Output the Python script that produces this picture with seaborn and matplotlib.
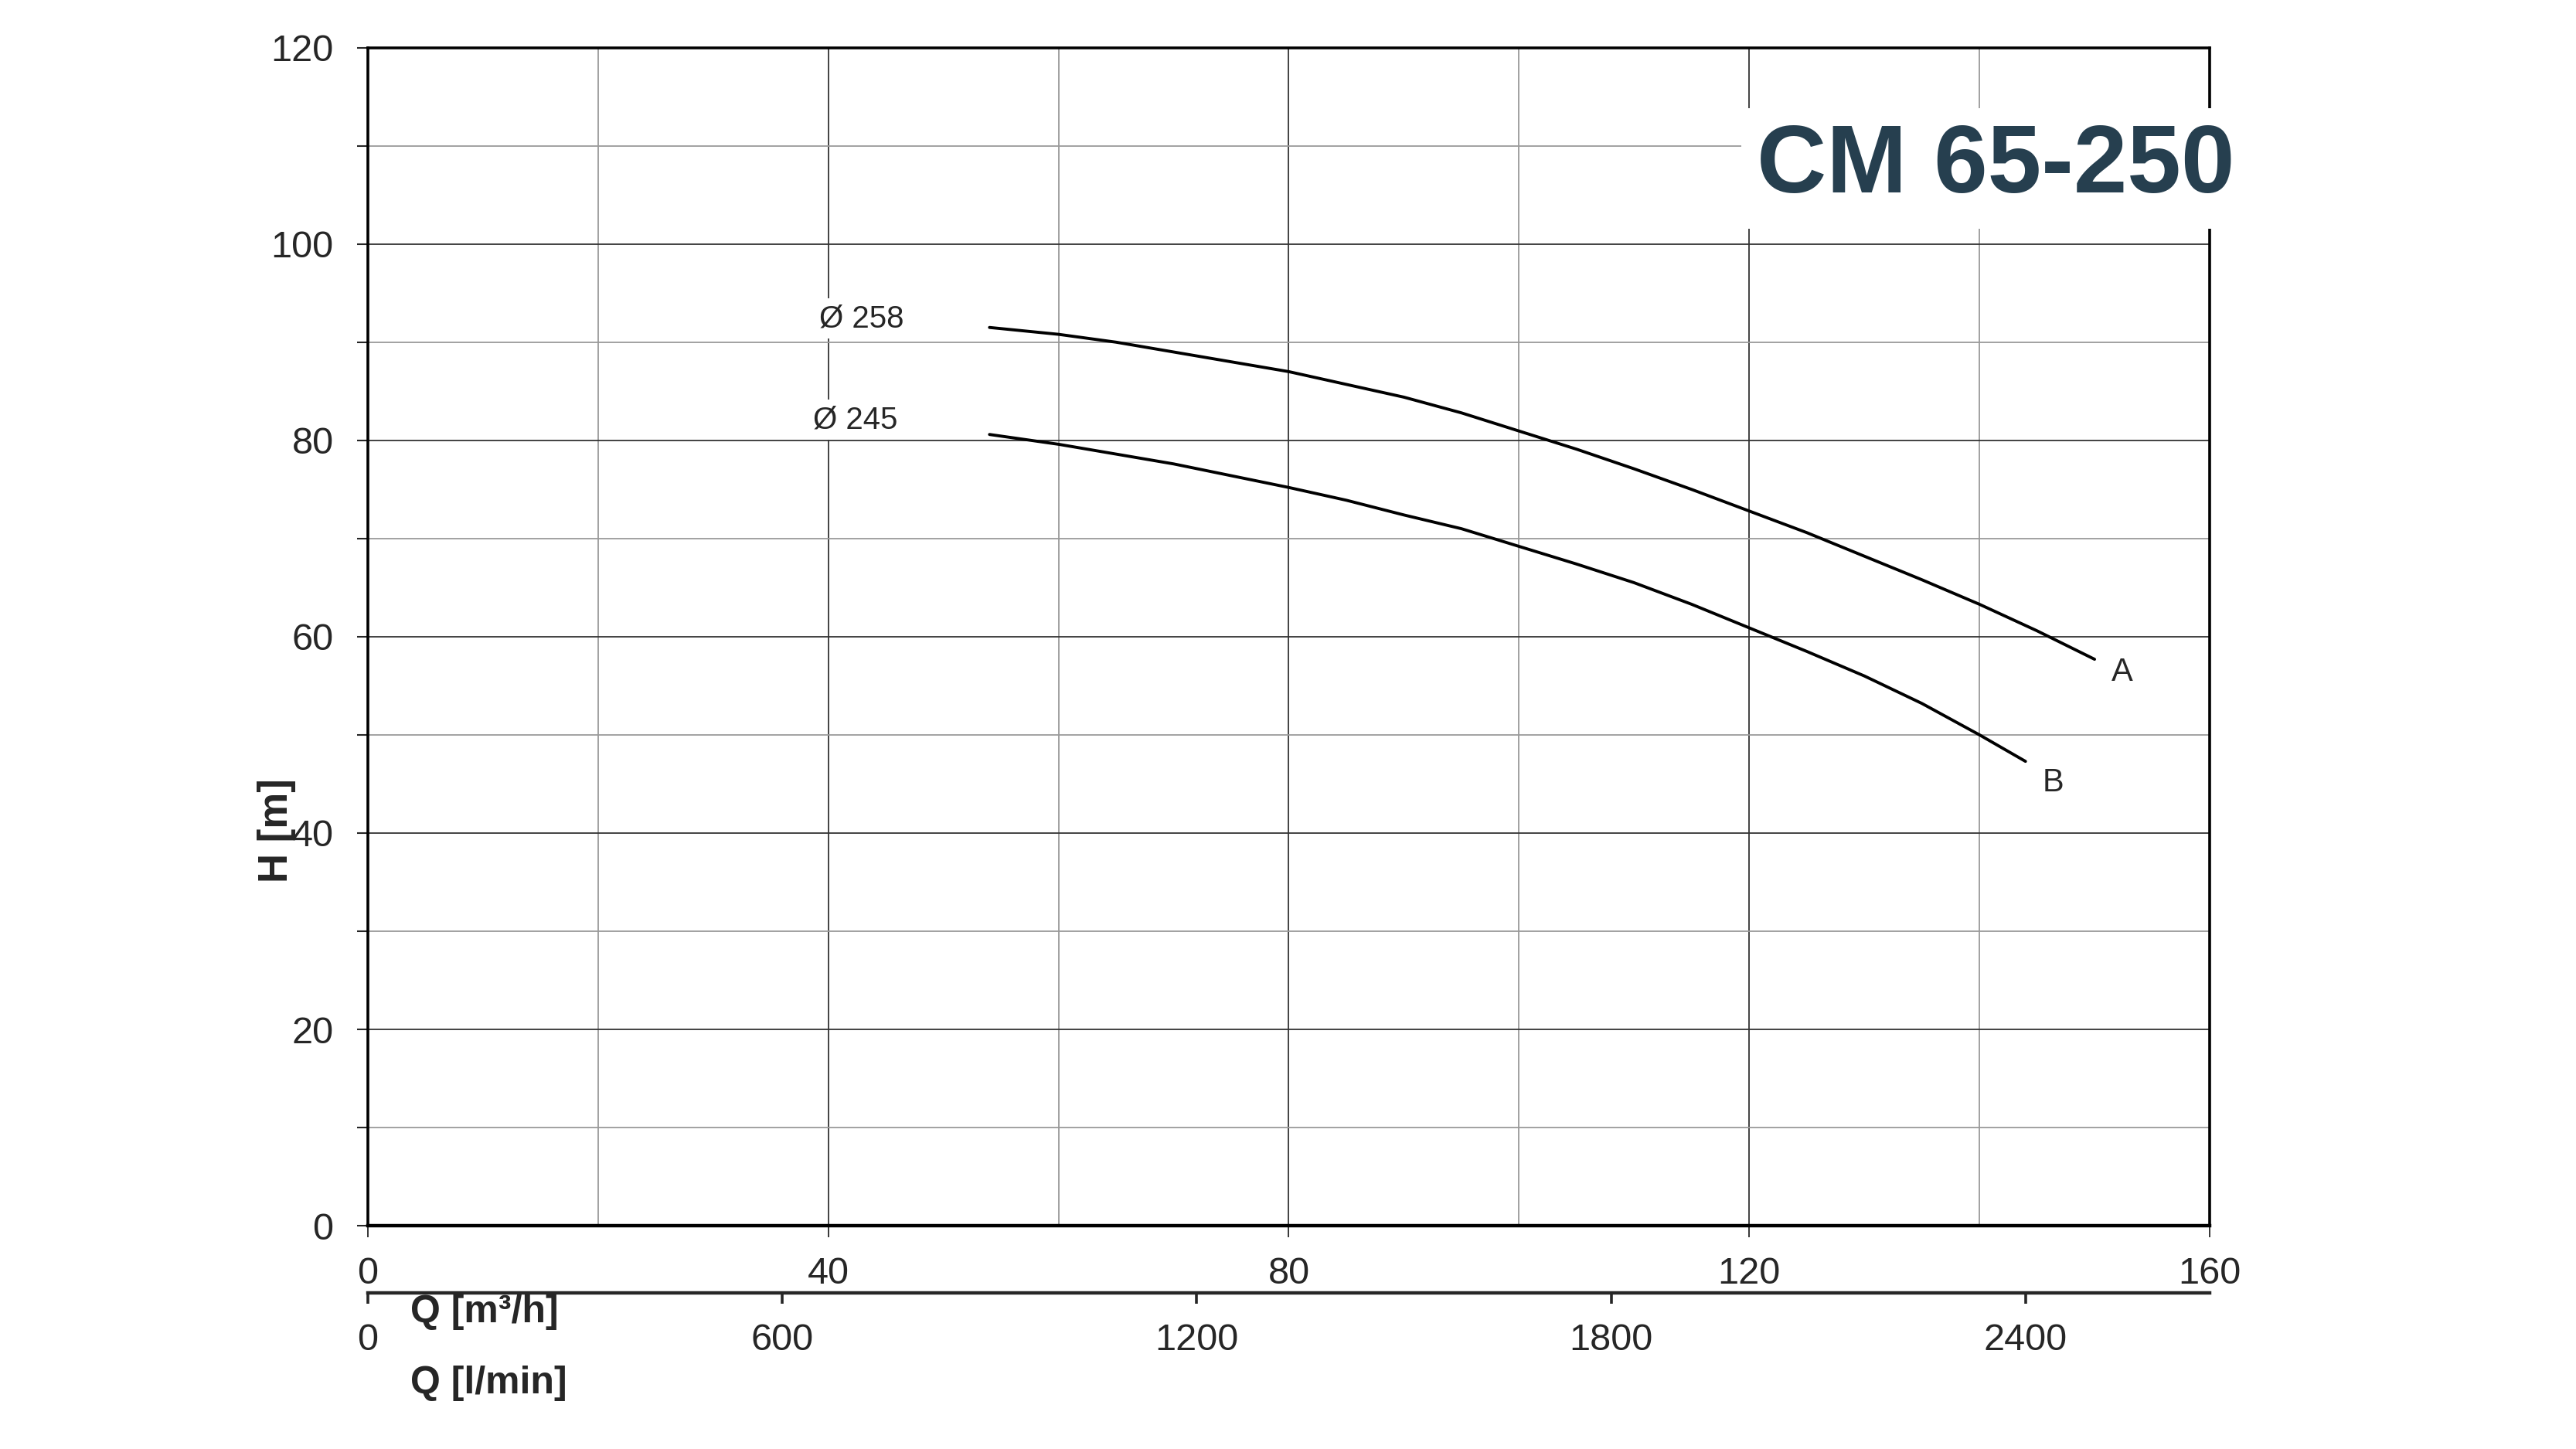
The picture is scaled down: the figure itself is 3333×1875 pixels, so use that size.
import pandas as pd
import numpy as np
import matplotlib.pyplot as plt
import seaborn as sns

# Kennlinien (Q in m3/h, H in m)
q_a = [54.0, 60, 65, 70, 75, 80, 85, 90, 95, 100, 105, 110, 115, 120, 125, 130, 135, 140, 145, 150]
h_a = [91.5, 90.8, 90.0, 89.0, 88.0, 87.0, 85.7, 84.4, 82.8, 80.95, 79.1, 77.1, 75.0, 72.8,
       70.6, 68.2, 65.8, 63.3, 60.6, 57.7]
q_b = [54.0, 60, 65, 70, 75, 80, 85, 90, 95, 100, 105, 110, 115, 120, 125, 130, 135, 140, 144]
h_b = [80.6, 79.6, 78.6, 77.6, 76.4, 75.2, 73.9, 72.4, 71.0, 69.2, 67.4, 65.5, 63.3, 60.9,
       58.5, 56.0, 53.2, 50.0, 47.3]

x_ticks = [0, 40, 80, 120, 160]
x_minor = [20, 60, 100, 140]
y_ticks = [0, 20, 40, 60, 80, 100, 120]
y_minor = [10, 30, 50, 70, 90, 110]
lmin_ticks = [0, 600, 1200, 1800, 2400]

df = pd.concat([
    pd.DataFrame({"Q": q_a, "H": h_a, "curve": "A"}),
    pd.DataFrame({"Q": q_b, "H": h_b, "curve": "B"}),
])

sns.set_style("white")
plt.rcParams['font.family'] = ['Liberation Sans', 'DejaVu Sans']

fig = plt.figure(figsize=(33.33, 18.75), dpi=100)
ax = fig.add_axes([0.1428, 0.1541, 0.715, 0.8130])

sns.lineplot(data=df, x="Q", y="H", hue="curve", palette={"A": "black", "B": "black"},
             estimator=None, sort=False, legend=False, linewidth=2.8, ax=ax, zorder=4,
             solid_joinstyle='round', solid_capstyle='round')

ax.set_xlim(0, 160)
ax.set_ylim(0, 120)
ax.set_xticks(x_ticks)
ax.set_xticks(x_minor, minor=True)
ax.set_yticks(y_ticks)
ax.set_yticks(y_minor, minor=True)
ax.set_xlabel("")
ax.set_ylabel("")

ax.grid(which='major', color='#333333', linewidth=1.3)
ax.grid(which='minor', color='#9a9a9a', linewidth=1.3)

ax.tick_params(axis='x', which='major', direction='out', length=11, width=1.3, pad=18,
               labelsize=35, bottom=True)
ax.tick_params(axis='x', which='minor', length=0)
ax.tick_params(axis='y', which='both', direction='out', length=10, width=1.5, pad=22,
               labelsize=35, left=True)

for s in ax.spines.values():
    s.set_visible(True)
    s.set_color('black')
    s.set_linewidth(2.6)
ax.spines['bottom'].set_linewidth(3.2)

# zweite Q-Achse in l/min
sec = ax.secondary_xaxis(-0.057, functions=(lambda q: q * 1000 / 60, lambda l: l * 60 / 1000))
sec.set_xticks(lmin_ticks)
sec.tick_params(direction='out', length=10, width=2.6, pad=18, labelsize=35)
sec.spines['bottom'].set_linewidth(3.2)

# Laufraddurchmesser
box = dict(facecolor='white', edgecolor='none', pad=5)
ax.text(39.2, 92.4, "Ø 258", ha='left', va='center', fontsize=29, bbox=box, zorder=5)
ax.text(38.7, 82.1, "Ø 245", ha='left', va='center', fontsize=29, bbox=box, zorder=5)
ax.text(152.4, 56.4, "A", ha='center', va='center', fontsize=30)
ax.text(146.4, 45.1, "B", ha='center', va='center', fontsize=30)

fig.text(0.7747, 0.884, "CM 65-250", ha='center', va='center', fontsize=90, weight='bold',
         color='#263f4f', bbox=dict(facecolor='white', edgecolor='none', pad=14))

fig.text(0.1074, 0.4267, "H [m]", rotation=90, ha='center', va='center', fontsize=38,
         weight='bold')
fig.text(0.1593, 0.0944, "Q [m³/h]", ha='left', va='center', fontsize=36, weight='bold')
fig.text(0.1593, 0.0453, "Q [l/min]", ha='left', va='center', fontsize=36, weight='bold')

plt.savefig("out.png", dpi=100)
